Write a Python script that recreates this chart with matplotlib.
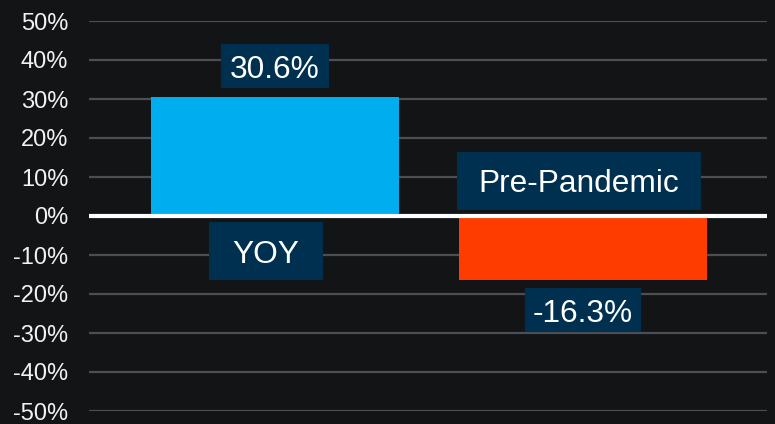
import matplotlib
matplotlib.use("Agg")
import matplotlib.pyplot as plt
from matplotlib.patches import Rectangle
from matplotlib.ticker import MultipleLocator, FuncFormatter

categories = ["YOY", "Pre-Pandemic"]
values = [30.6, -16.3]
value_labels = ["30.6%", "-16.3%"]
bar_colors = ["#00AEEF", "#FF3C00"]

BG = "#131416"
BOX = "#00304F"
GRID = "#4B4F55"

plt.rcParams["font.family"] = ["Liberation Sans", "DejaVu Sans"]

fig = plt.figure(figsize=(7.75, 4.24), dpi=100, facecolor=BG)
ax = fig.add_axes([89/775, 13/424, (767-89)/775, (411-21)/424])
ax.set_facecolor(BG)

x = list(range(len(categories)))
ax.bar(x, values, width=0.805, color=bar_colors, zorder=2)

ax.set_xlim(-0.604, 1.597)
ax.set_ylim(-50, 50)
ax.yaxis.set_major_locator(MultipleLocator(10))
ax.yaxis.set_major_formatter(FuncFormatter(lambda v, p: f"{v:.0f}%"))
ax.set_xticks([])
ax.tick_params(axis="y", length=0, pad=15, labelsize=17, labelcolor="#F2F2F2")
ax.grid(axis="y", color=GRID, linewidth=1.6, zorder=0)
ax.set_axisbelow(True)
for s in ax.spines.values():
    s.set_visible(False)
ax.axhline(0, color="white", linewidth=3, zorder=4)

fig.canvas.draw()
px_x = ax.bbox.width / (ax.get_xlim()[1] - ax.get_xlim()[0])
px_y = ax.bbox.height / (ax.get_ylim()[1] - ax.get_ylim()[0])


def label_box(cx, cy, text, w_px, h_px):
    w = w_px / px_x
    h = h_px / px_y
    ax.add_patch(Rectangle((cx - w / 2, cy - h / 2), w, h, facecolor=BOX,
                           edgecolor="none", zorder=5))
    ax.text(cx, cy, text, ha="center", va="center_baseline", fontsize=22.8,
            color="white", zorder=6)


value_box_w = {"30.6%": 108, "-16.3%": 116}
cat_box_w = {"YOY": 114, "Pre-Pandemic": 244}
cat_dx = {"YOY": -0.03, "Pre-Pandemic": -0.013}

for xi, v, vl, cat in zip(x, values, value_labels, categories):
    sign = 1 if v >= 0 else -1
    label_box(xi, v + sign * 7.85, vl, value_box_w[vl], 44)
    label_box(xi + cat_dx[cat], -sign * 9.0, cat, cat_box_w[cat], 58)

fig.savefig("out.png", dpi=100, facecolor=BG)
